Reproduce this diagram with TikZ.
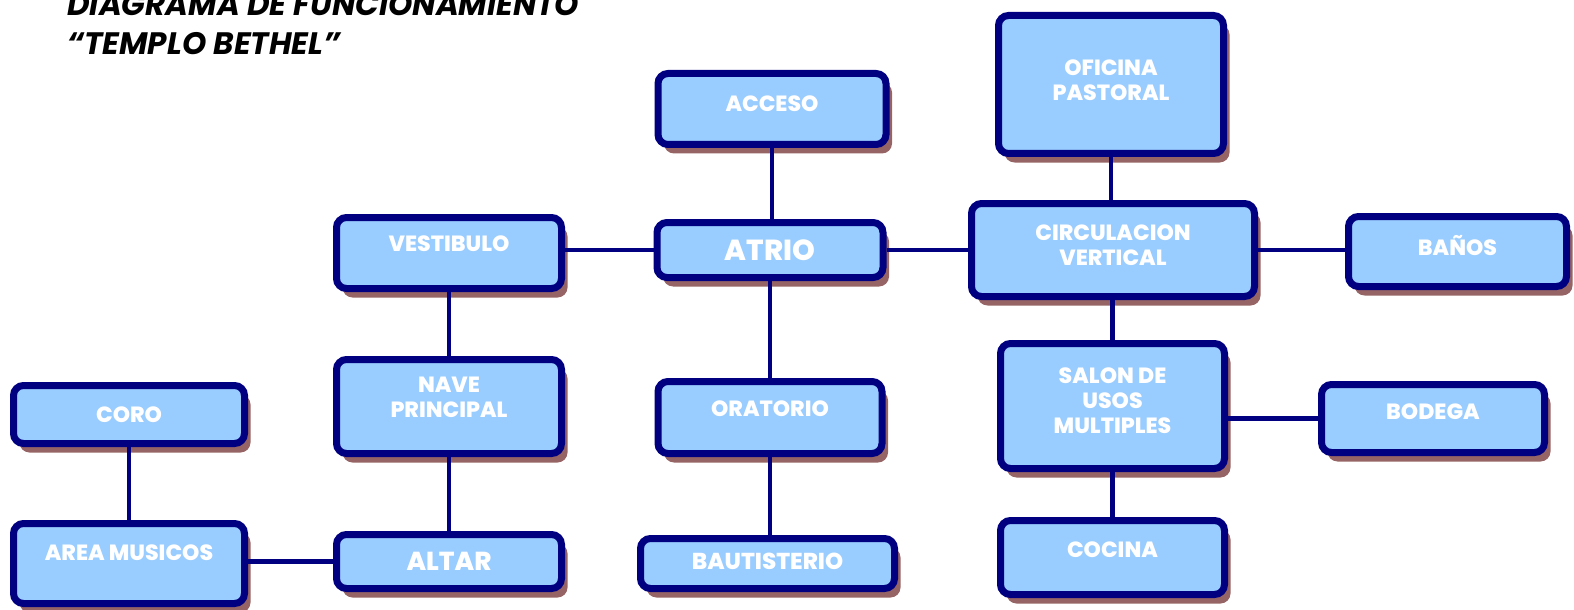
\documentclass[tikz,border=0pt]{standalone}
\usepackage{fontspec}
\setmainfont{Poppins}
\IfFontExistsTF{Poppins ExtraBold}
    {\newfontfamily\cajafont{Poppins ExtraBold}}
    {\newfontfamily\cajafont{Poppins}[UprightFont=*-Bold]}
\usetikzlibrary{shadows}
\definecolor{azulborde}{RGB}{0,0,128}
\definecolor{azulcaja}{RGB}{153,204,255}
\definecolor{sombracaja}{RGB}{150,100,100}

\begin{document}
\begin{tikzpicture}[x=0.5pt, y=-0.5pt,
        caja/.style={draw=azulborde, line width=3.5pt, fill=azulcaja, rounded corners=5pt,
            drop shadow={shadow xshift=3pt, shadow yshift=-4.5pt, fill=sombracaja, opacity=1},
            text=white, font=\cajafont\fontsize{11}{12.5}\selectfont, align=center, inner sep=0pt},
        enlace/.style={azulborde, line width=2.2pt},
        titulo/.style={font=\bfseries\itshape\fontsize{15.5}{17}\selectfont, inner sep=0pt, anchor=base west}]

        \useasboundingbox (0,0) rectangle (1574,610);

        % Title
        \node[titulo] (titulo) at (67,16) {DIAGRAMA DE FUNCIONAMIENTO};
        \node[titulo] (subtitulo) at (67,55) {“TEMPLO BETHEL”};

        % Central column
        \node[caja, minimum width=114pt, minimum height=35.5pt, text depth=5pt] (acceso) at (772,109) {ACCESO};
        \node[caja, minimum width=113pt, minimum height=27.5pt, font=\cajafont\fontsize{14.5}{16}\selectfont] (atrio) at (770,250) {ATRIO};
        \node[caja, minimum width=112pt, minimum height=36pt, text depth=8.5pt] (oratorio) at (770,417.5) {ORATORIO};
        \node[caja, minimum width=127pt, minimum height=25pt, text depth=2.5pt, font=\cajafont\fontsize{11.5}{12.5}\selectfont] (bautisterio) at (767.5,563.5) {BAUTISTERIO};

        % Left side
        \node[caja, minimum width=112.5pt, minimum height=35.5pt, text depth=9pt] (vestibulo) at (449,253) {VESTIBULO};
        \node[caja, minimum width=112.5pt, minimum height=47pt, text depth=9pt] (nave) at (449,406.5) {NAVE\\PRINCIPAL};
        \node[caja, minimum width=112.5pt, minimum height=27pt, font=\cajafont\fontsize{13}{14}\selectfont] (altar) at (449,561.5) {ALTAR};
        \node[caja, minimum width=115.5pt, minimum height=29pt] (coro) at (129,414.5) {CORO};
        \node[caja, minimum width=115.5pt, minimum height=40pt, text depth=11pt] (musicos) at (129,563.5) {AREA MUSICOS};

        % Right side
        \node[caja, minimum width=112.5pt, minimum height=69pt, text depth=4pt] (oficina) at (1111,84.5) {OFICINA\\PASTORAL};
        \node[caja, minimum width=141.5pt, minimum height=46.5pt, text depth=4.5pt] (circulacion) at (1113,250) {CIRCULACION\\VERTICAL};
        \node[caja, minimum width=109pt, minimum height=35pt, text depth=6.5pt] (banos) at (1457.5,251.5) {BAÑOS};
        \node[caja, minimum width=112pt, minimum height=62.5pt, text depth=5pt] (salon) at (1112.5,406) {SALON DE\\USOS\\MULTIPLES};
        \node[caja, minimum width=111.5pt, minimum height=34pt, text depth=6.5pt] (bodega) at (1433,418.5) {BODEGA};
        \node[caja, minimum width=112pt, minimum height=37pt, text depth=8pt] (cocina) at (1112.5,557.5) {COCINA};

        % Connections
        \draw[enlace] (acceso.south) -- (acceso.south |- atrio.north);
        \draw[enlace] (atrio.west) -- (atrio.west -| vestibulo.east);
        \draw[enlace] (atrio.east) -- (atrio.east -| circulacion.west);
        \draw[enlace] (atrio) -- (oratorio);
        \draw[enlace] (oratorio.south) -- (oratorio.south |- bautisterio.north);
        \draw[enlace] (vestibulo) -- (nave);
        \draw[enlace] (nave) -- (altar);
        \draw[enlace] (coro) -- (musicos);
        \draw[enlace] (altar.west) -- (altar.west -| musicos.east);
        \draw[enlace] (oficina.south) -- (oficina.south |- circulacion.north);
        \draw[enlace] (circulacion.east) -- (circulacion.east -| banos.west);
        \draw[enlace] (salon.north) -- (salon.north |- circulacion.south);
        \draw[enlace] (bodega.west) -- (bodega.west -| salon.east);
        \draw[enlace] (salon.south) -- (salon.south |- cocina.north);

\end{tikzpicture}
\end{document}
